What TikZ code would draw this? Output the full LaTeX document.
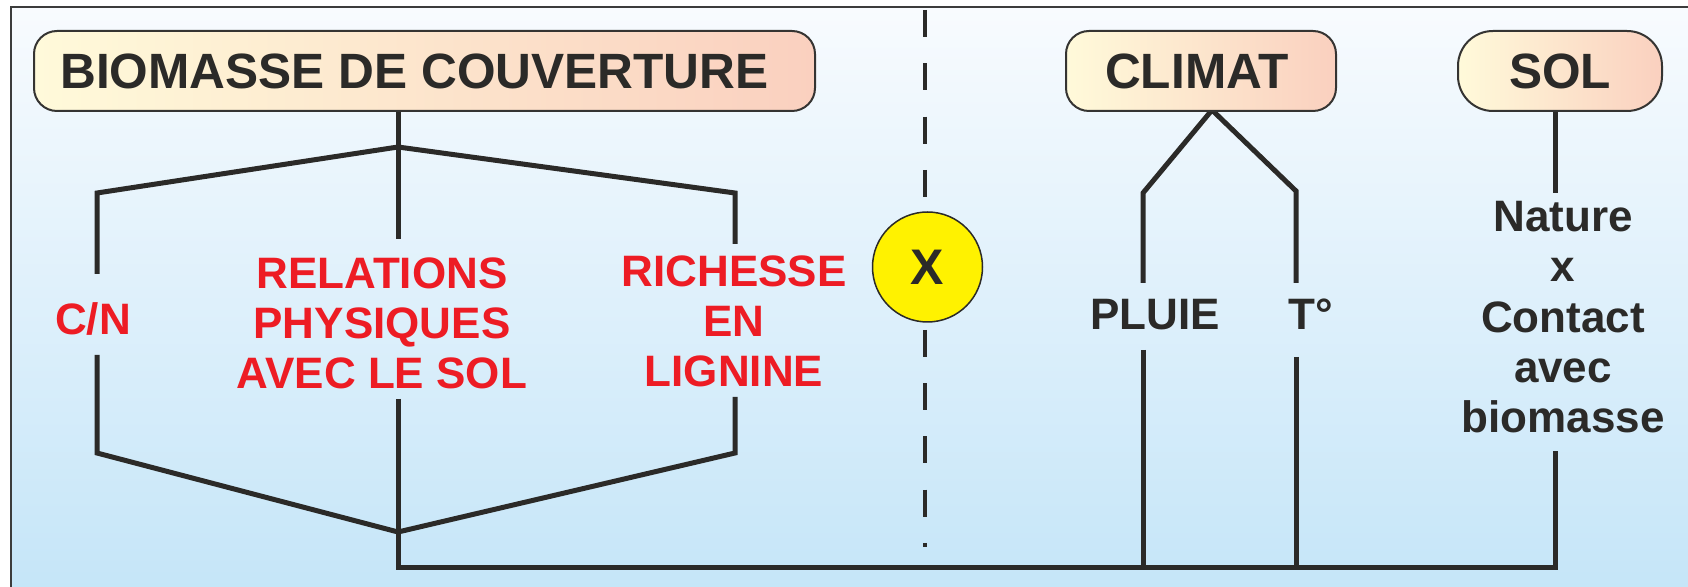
\documentclass[tikz,border=0pt]{standalone}
\usepackage{fontspec}
\setmainfont{Liberation Sans}
\definecolor{ink}{HTML}{2B2A28}
\definecolor{redtxt}{HTML}{ED1C24}
\definecolor{boxL}{HTML}{FFFADA}
\definecolor{boxR}{HTML}{FAD0BF}
\definecolor{boxline}{HTML}{353432}
\definecolor{framec}{HTML}{3C3C3C}
\definecolor{bgtop}{HTML}{F8FBFE}
\definecolor{bgbot}{HTML}{C4E5F8}
\definecolor{mulfill}{HTML}{FFF200}
\begin{document}
\begin{tikzpicture}[x=0.5pt,y=-0.5pt,
  hdr/.style={draw=boxline, line width=1pt, left color=boxL, right color=boxR,
    minimum height=40pt, inner sep=0pt, text=ink,
    font=\fontsize{24.8}{29}\selectfont\bfseries},
  wire/.style={draw=ink, line width=2.5pt, line join=miter},
  lbl/.style={font=\fontsize{22}{25.2}\selectfont\bfseries, align=center,
    inner sep=0pt, anchor=base},
  redlbl/.style={lbl, text=redtxt},
  inklbl/.style={lbl, text=ink}]
\useasboundingbox (0,0) rectangle (1688,587);
% page and panel background
\fill[white] (0,0) rectangle (1688,587);
\fill[top color=bgtop, bottom color=bgbot] (10.5,7) rectangle (1700,600);
\draw[framec, line width=1pt] (10.5,7) rectangle (1700,600);

% separator between the cover biomass and the environment factors
\coordinate (sepT) at (925,10);
\coordinate (sepB) at (925,547);
\draw[ink, line width=2pt, dash pattern=on 13.5pt off 13.15pt] (sepT) -- (sepB);

% branch points
\coordinate (bioroot) at (398,111);
\coordinate (bj) at (398,147);
\coordinate (bl) at (97,193);
\coordinate (br) at (735,193);
\coordinate (blt) at (97,274);
\coordinate (brt) at (735,244);
\coordinate (bm) at (398,239);
\coordinate (blb) at (97,355);
\coordinate (blc) at (97,453);
\coordinate (brb) at (735,397);
\coordinate (brc) at (735,453);
\coordinate (bmb) at (398,399);
\coordinate (ba) at (398,532);
\coordinate (bb) at (398,568);
\coordinate (ca) at (1212,110);
\coordinate (cl) at (1143,193);
\coordinate (clt) at (1143,283);
\coordinate (cr) at (1296,191);
\coordinate (crt) at (1296,283);
\coordinate (clb) at (1143,350);
\coordinate (clx) at (1143,568);
\coordinate (crb) at (1296,357);
\coordinate (crx) at (1296,568);
\coordinate (st) at (1555,111);
\coordinate (sb) at (1555,193);
\coordinate (sl) at (1555,451);
\coordinate (sx) at (1555,568);

% biomass tree
\draw[wire] (bioroot) -- (bm);
\draw[wire] (blt) -- (bl) -- (bj) -- (br) -- (brt);
\draw[wire] (blb) -- (blc) -- (ba) -- (brc) -- (brb);
\draw[wire] (bmb) -- (bb) -- (sx) -- (sl);
% climate tree
\draw[wire] (clt) -- (cl) -- (ca) -- (cr) -- (crt);
\draw[wire] (clb) -- (clx);
\draw[wire] (crb) -- (crx);
% soil
\draw[wire] (st) -- (sb);

% headers
\node[hdr, rounded corners=11.5pt, minimum width=390.5pt] (bio) at (424.5,71)
  {BIOMASSE DE COUVERTURE\hspace*{10pt}};
\node[hdr, rounded corners=11.5pt, minimum width=135pt] (clim) at (1201,71)
  {CLIMAT\hspace*{4pt}};
\node[hdr, rounded corners=17.5pt, minimum width=102pt] (sol) at (1560,71) {SOL};

% interaction sign
\node[circle, draw=ink, line width=0.75pt, fill=mulfill, minimum size=55pt,
  inner sep=0pt, text=ink, font=\fontsize{25}{30}\selectfont\bfseries]
  (mul) at (927.5,267) {X};

% labels (multi-line blocks sit on the baseline of their last line)
\node[redlbl] (cn) at (93,335) {C/N};
\node[redlbl] (rel) at (382,389) {RELATIONS\\PHYSIQUES\\AVEC LE SOL};
\node[redlbl] (lig) at (734,387) {RICHESSE\\EN\\LIGNINE};
\node[inklbl] (pluie) at (1155,330) {PLUIE};
\node[inklbl] (temp) at (1311,330) {T°};
\node[inklbl] (nat) at (1563,433) {Nature\\x\\Contact\\avec\\biomasse};
\end{tikzpicture}
\end{document}
